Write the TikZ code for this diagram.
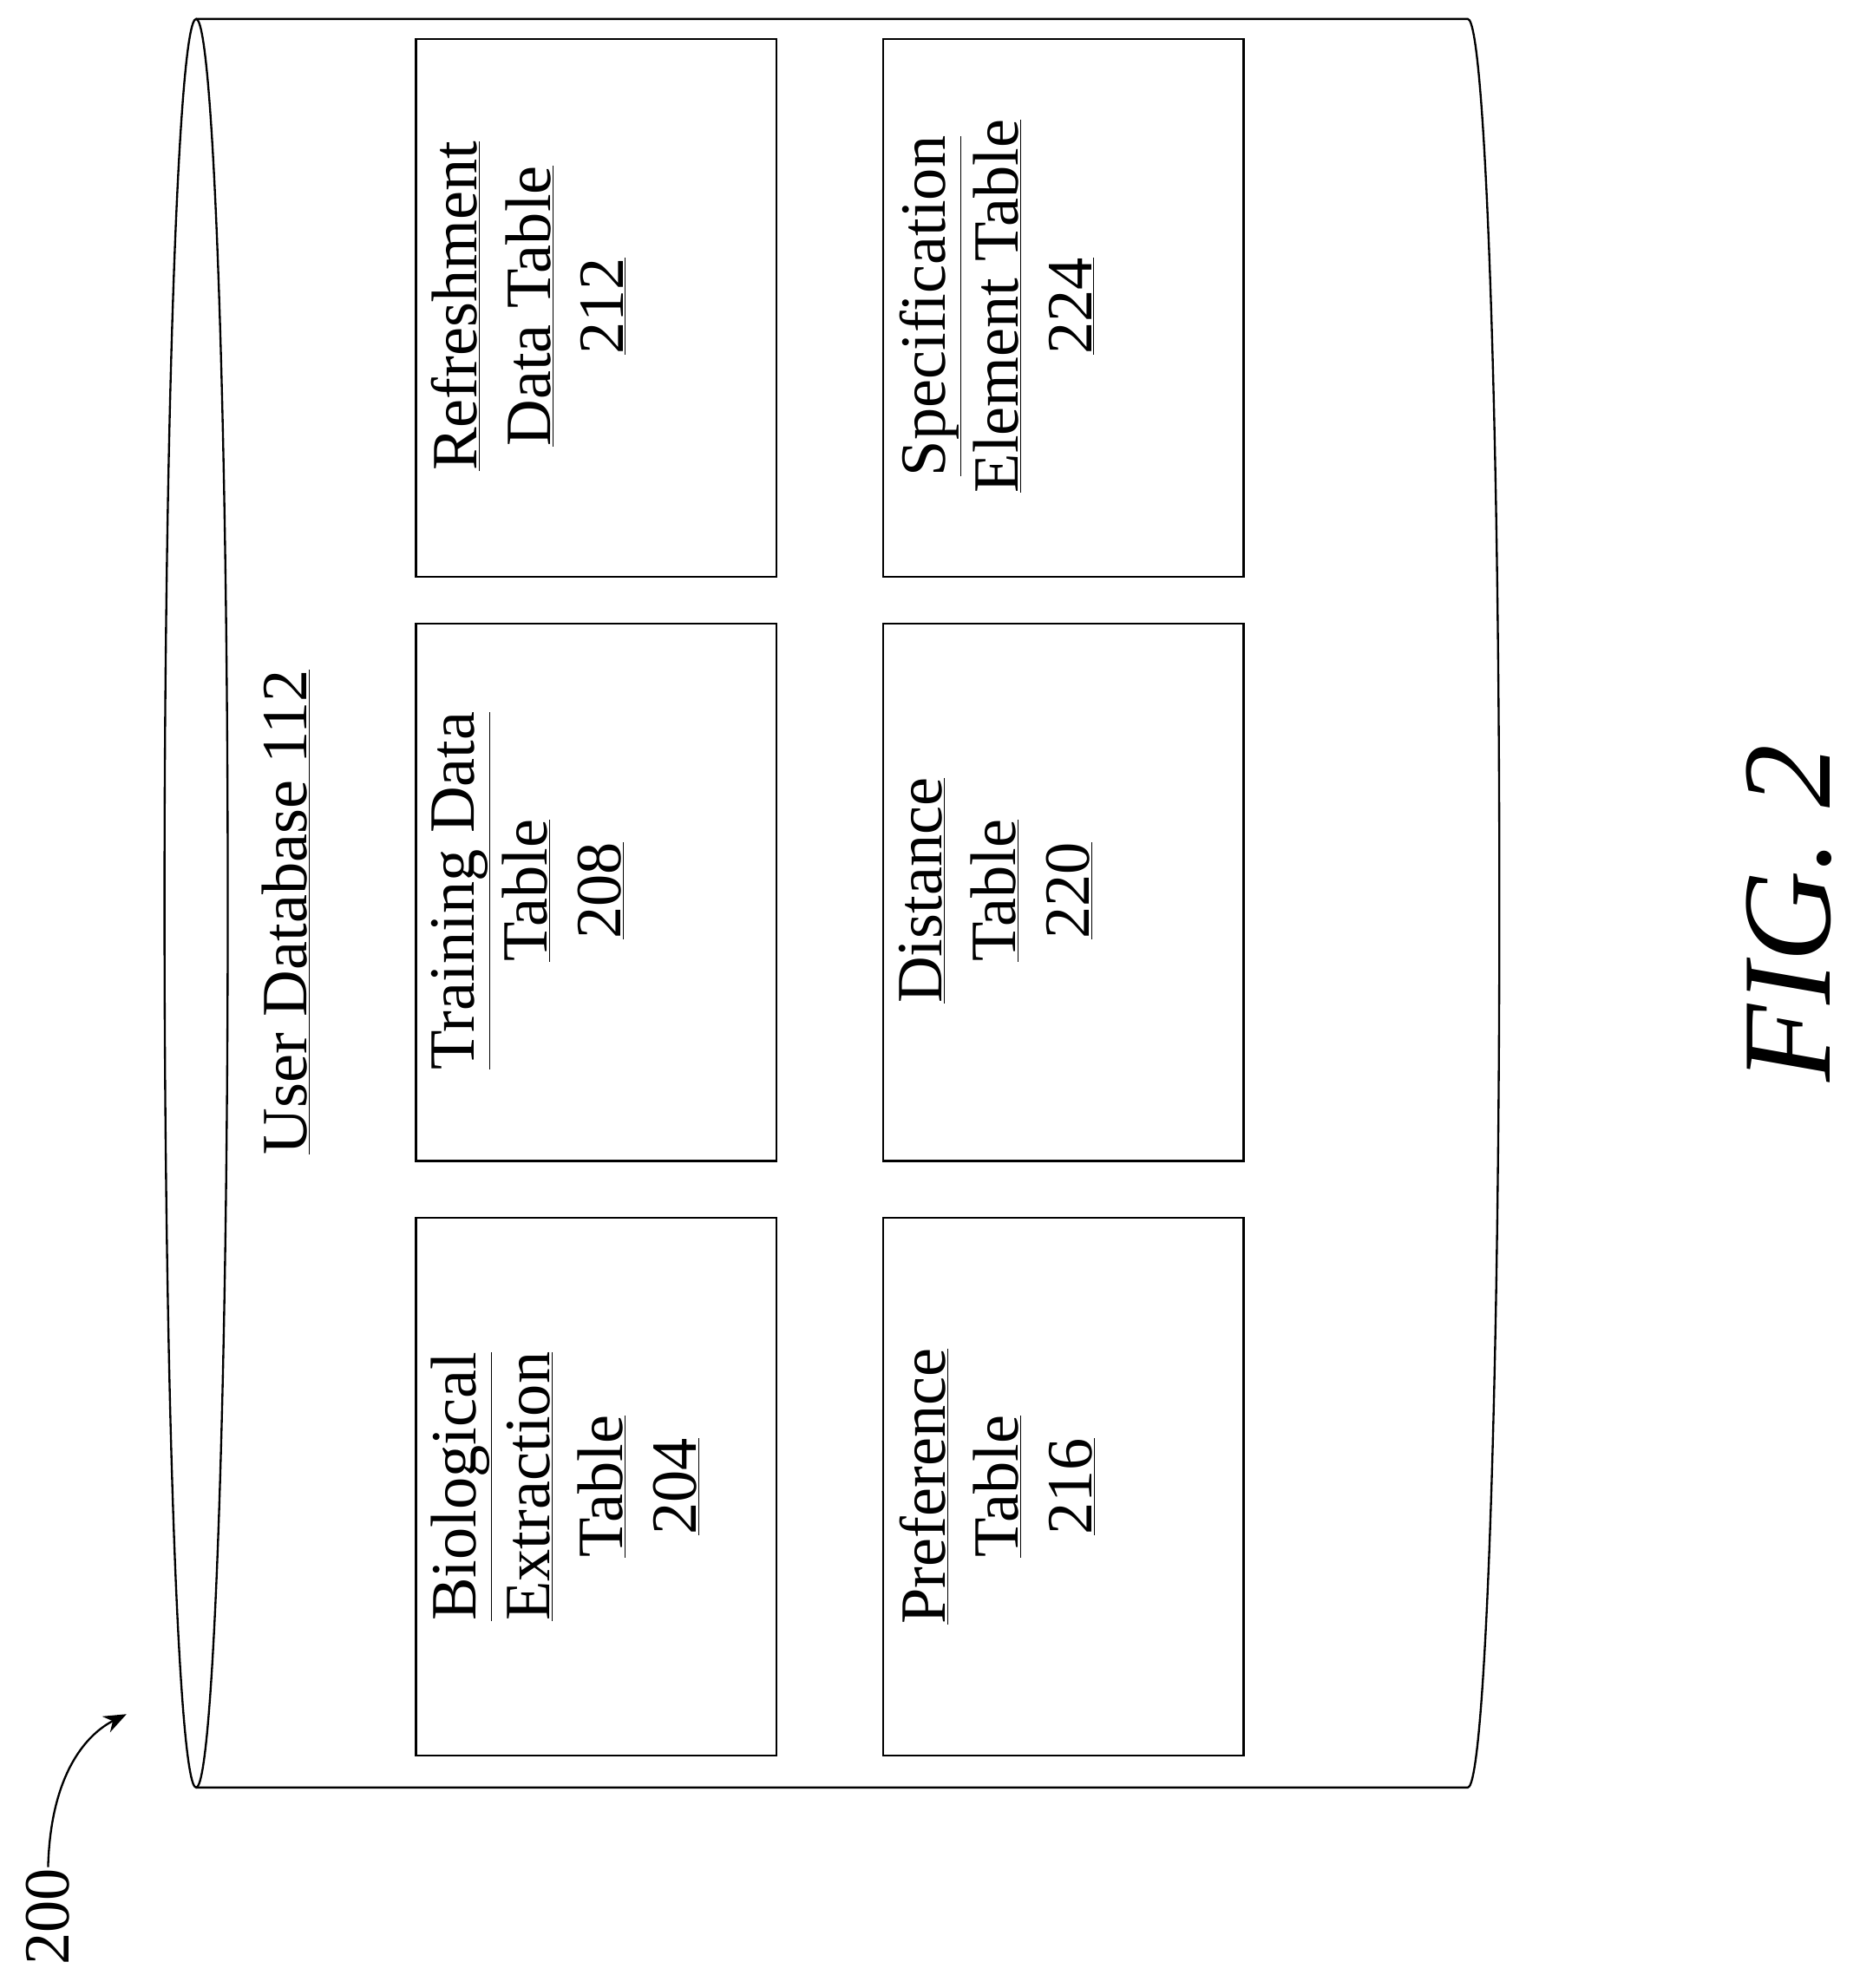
\documentclass[tikz,border=0pt]{standalone}
\usepackage{fontspec}
\setmainfont{Liberation Serif}
\usetikzlibrary{arrows.meta}
\begin{document}
\begin{tikzpicture}[x=1pt,y=-1pt,line width=1.6pt,
  tbl/.style={draw,minimum width=285pt,minimum height=425pt,anchor=north west},
  lbl/.style={rotate=90,anchor=north,align=center,font=\fontsize{51}{58}\selectfont,inner sep=0pt}]
\useasboundingbox (0,0) rectangle (1470,1571.5);
% cylinder
\draw (155,714) ellipse [x radius=25, y radius=699];
\draw (155,15) -- (1160,15) arc[start angle=-90,end angle=90,x radius=25,y radius=699] -- (155,1413);
% boxes
\node[tbl] (b204) at (328,962) {};
\node[tbl] (b208) at (328,492) {};
\node[tbl] (b212) at (328,30) {};
\node[tbl] (b216) at (697,962) {};
\node[tbl] (b220) at (697,492) {};
\node[tbl] (b224) at (697,30) {};
\node[lbl] (t204) at (340,1175) {\underline{Biological}\\\underline{Extraction}\\\underline{Table}\\\underline{204}};
\node[lbl] (t208) at (340,704) {\underline{Training Data}\\\underline{Table}\\\underline{208}};
\node[lbl] (t212) at (340,242) {\underline{Refreshment}\\\underline{Data Table}\\\underline{212}};
\node[lbl] (t216) at (710,1175) {\underline{Preference}\\\underline{Table}\\\underline{216}};
\node[lbl] (t220) at (710,704) {\underline{Distance}\\\underline{Table}\\\underline{220}};
\node[lbl] (t224) at (710,242) {\underline{Specification}\\\underline{Element Table}\\\underline{224}};
\node[rotate=90,font=\fontsize{51}{58}\selectfont,inner sep=0pt] (db) at (226,721) {\underline{User Database 112}};
\node[rotate=90,font=\fontsize{100}{120}\selectfont\itshape,inner sep=0pt] (fig) at (1414,722) {FIG. 2};
\node[rotate=90,font=\fontsize{51}{58}\selectfont,inner sep=0pt] (n200) at (38,1515) {200};
\coordinate (arrEnd) at (100,1355);
\draw[-{Stealth[length=18pt,width=14pt]}] (n200.east) .. controls (40,1400) and (70,1370) .. (arrEnd);
\end{tikzpicture}
\end{document}
